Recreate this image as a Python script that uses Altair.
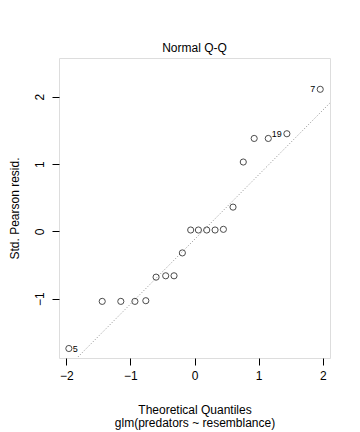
import altair as alt
import numpy as np
import pandas as pd

# Data
theoretical = [-1.96, -1.44, -1.15, -0.93, -0.76, -0.60, -0.45, -0.32, -0.19, -0.06,
               0.06, 0.19, 0.32, 0.45, 0.60, 0.76, 0.93, 1.15, 1.44, 1.96]
resid = [-1.74, -1.04, -1.04, -1.04, -1.03, -0.68, -0.66, -0.66, -0.32, 0.02,
         0.02, 0.02, 0.02, 0.03, 0.36, 1.03, 1.38, 1.38, 1.45, 2.11]
labels = ["5", "", "", "", "", "", "", "", "", "",
          "", "", "", "", "", "", "", "", "19", "7"]
x_ticks = [-2, -1, 0, 1, 2]
y_ticks = [-1, 0, 1, 2]

x_dom = [-2.114, 2.1125]
y_dom = [-1.881, 2.575]

df = pd.DataFrame({"x": theoretical, "y": resid, "label": labels})

# qqline through the quartiles (as R's qqline does)
q1, q3 = np.quantile(resid, [0.25, 0.75])
z = 0.6744897501960817
slope = (q3 - q1) / (2 * z)
intercept = q1 + slope * z
line_df = pd.DataFrame({"x": x_dom, "y": [intercept + slope * v for v in x_dom]})

font = "Liberation Sans"

xscale = alt.Scale(domain=x_dom, nice=False, zero=False)
yscale = alt.Scale(domain=y_dom, nice=False, zero=False)

xaxis = alt.Axis(values=x_ticks, format="d",
                 title=["Theoretical Quantiles", "glm(predators ~ resemblance)"],
                 grid=False, domain=False, tickSize=7, tickColor="black", labelColor="black",
                 labelFontSize=12, labelPadding=5, labelFont=font, titleFont=font,
                 titleFontSize=12, titleFontWeight="normal", titleColor="black",
                 titleY=46, titleBaseline="top", titleLineHeight=13)
yaxis = alt.Axis(values=y_ticks, format="d", title="Std. Pearson resid.", grid=False, domain=False,
                 tickSize=7, tickColor="black", labelColor="black", labelFontSize=12,
                 labelAngle=-90, labelAlign="center", labelBaseline="bottom", labelPadding=6,
                 labelFont=font, titleFont=font, titleFontSize=12, titleFontWeight="normal",
                 titleColor="black", titleX=-45, titleY=150, titleAngle=-90,
                 titleAlign="center", titleBaseline="middle")

line = alt.Chart(line_df).mark_line(color="#8c8c8c", strokeDash=[1, 2], strokeWidth=1, clip=True).encode(
    x=alt.X("x:Q", scale=xscale, axis=xaxis),
    y=alt.Y("y:Q", scale=yscale, axis=yaxis),
)

points = alt.Chart(df).mark_point(shape="circle", filled=False, color="black", size=38, strokeWidth=1).encode(
    x=alt.X("x:Q", scale=xscale),
    y=alt.Y("y:Q", scale=yscale),
)

lab_left = alt.Chart(df[df["label"].isin(["19", "7"])]).mark_text(
    align="right", baseline="middle", dx=-5, fontSize=9, font=font, color="black"
).encode(x=alt.X("x:Q", scale=xscale), y=alt.Y("y:Q", scale=yscale), text="label:N")

lab_right = alt.Chart(df[df["label"] == "5"]).mark_text(
    align="left", baseline="middle", dx=4, fontSize=9, font=font, color="black"
).encode(x=alt.X("x:Q", scale=xscale), y=alt.Y("y:Q", scale=yscale), text="label:N")

chart = alt.layer(line, points, lab_left, lab_right).properties(
    width=271, height=300,
    title=alt.TitleParams("Normal Q-Q", font=font, fontSize=12, fontWeight="normal",
                          color="black", anchor="middle", offset=3),
    autosize=alt.AutoSizeParams(type="none"),
    padding={"left": 51, "top": 50, "right": 22, "bottom": 72},
).configure_view(stroke="black", strokeWidth=1).configure(background="white")

chart.save("out.html", embed_options={"renderer": "svg", "actions": False})
